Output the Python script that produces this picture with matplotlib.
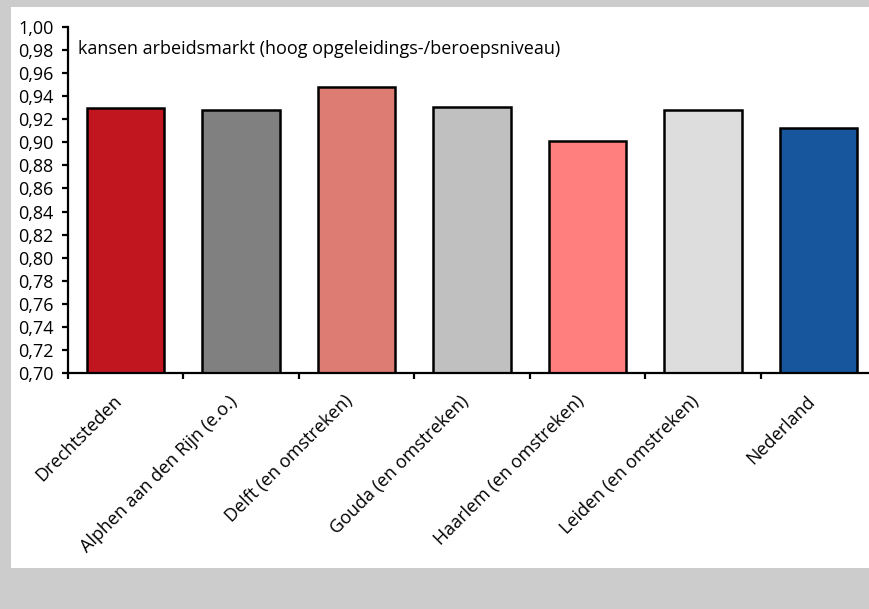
import numpy as np
import matplotlib.pyplot as plt
from matplotlib.patches import Rectangle
from matplotlib.ticker import FuncFormatter, FixedLocator

regios = ['Drechtsteden', 'Alphen aan den Rijn (e.o.)', 'Delft (en omstreken)',
          'Gouda (en omstreken)', 'Haarlem (en omstreken)', 'Leiden (en omstreken)',
          'Nederland']
kansen = [0.930, 0.928, 0.948, 0.931, 0.901, 0.928, 0.912]
kleuren = ['#C1151F', '#808080', '#DC7C72', '#C0C0C0', '#FF7F7F', '#DDDDDD', '#17569C']
titel = 'kansen arbeidsmarkt (hoog opgeleidings-/beroepsniveau)'

plt.rcParams['font.family'] = ['Open Sans', 'DejaVu Sans']
fs = 13

W, H = 869, 609
fig = plt.figure(figsize=(W / 100, H / 100), dpi=100, facecolor='#cccccc')
# witte kader
fig.patches.append(Rectangle((11 / W, (H - 568) / H), 1.0, (568 - 7) / H,
                             transform=fig.transFigure, facecolor='white',
                             edgecolor='none', zorder=-10))

x0, x1, ytop, ybot = 68, 876, 27, 373
ax = fig.add_axes([x0 / W, (H - ybot) / H, (x1 - x0) / W, (ybot - ytop) / H])
ax.patch.set_alpha(0)

x = np.arange(len(regios))
ax.bar(x, np.array(kansen) - 0.70, bottom=0.70, width=0.67, color=kleuren,
       edgecolor='black', linewidth=1.8, zorder=2)

ax.set_xlim(-0.5, len(regios) - 0.5)
ax.set_ylim(0.70, 1.00)

yt = np.round(np.arange(0.70, 1.001, 0.02), 2)
ax.yaxis.set_major_locator(FixedLocator(yt))
ax.yaxis.set_major_formatter(FuncFormatter(lambda v, p: f'{v:.2f}'.replace('.', ',')))

ax.xaxis.set_major_locator(FixedLocator(np.arange(len(regios) + 1) - 0.5))
ax.xaxis.set_major_formatter(FuncFormatter(lambda v, p: ''))
for i, r in enumerate(regios):
    ax.text(i - 0.055, 0.678, r, rotation=45, rotation_mode='anchor',
            ha='right', va='center', fontsize=fs, transform=ax.transData,
            clip_on=False)

for s in ['top', 'right']:
    ax.spines[s].set_visible(False)
for s in ['left', 'bottom']:
    ax.spines[s].set_linewidth(1.6)
    ax.spines[s].set_zorder(3)

ax.tick_params(axis='y', direction='out', length=4.5, width=1.6, pad=6, labelsize=fs)
ax.tick_params(axis='x', direction='out', length=4.5, width=1.6)

ax.text(0.012, (ybot - 49) / (ybot - ytop), titel, transform=ax.transAxes,
        ha='left', va='center', fontsize=fs)

fig.savefig('out.png', dpi=100, facecolor=fig.get_facecolor())
